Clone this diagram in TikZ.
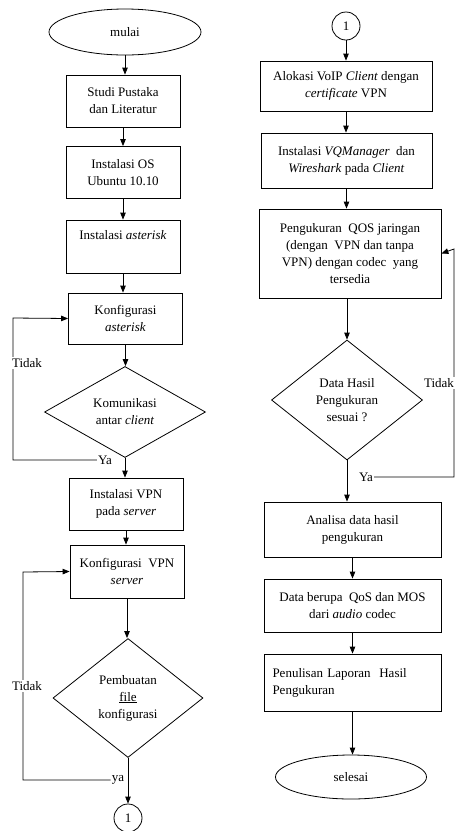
\documentclass[tikz,border=0pt]{standalone}
\usepackage{fontspec}
\setmainfont{Liberation Serif}
\usetikzlibrary{shapes.geometric,arrows.meta}

\tikzset{
	proc/.style={draw,rectangle,align=center,inner sep=2pt,line width=0.8pt},
	term/.style={draw,ellipse,inner sep=1pt,line width=0.8pt},
	dec/.style={draw,diamond,align=center,inner sep=0pt,line width=0.8pt},
	conn/.style={draw,circle,minimum size=28pt,inner sep=0pt,line width=0.8pt},
	line/.style={line width=0.8pt},
	arr/.style={line width=0.8pt,-{Triangle[length=7pt,width=5.5pt]}},
	lbl/.style={fill=white,inner sep=1pt}
}

\begin{document}
\begin{tikzpicture}[x=1pt,y=-1pt,font=\fontsize{13}{17}\selectfont]
		\useasboundingbox (0,0) rectangle (456,831);
		% kolom kiri
		\node[term,minimum width=152pt,minimum height=46pt] (mulai) at (125,32) {mulai};
		\node[proc,minimum width=114pt,minimum height=52pt] (studi) at (123,101) {Studi Pustaka\\dan Literatur};
		\node[proc,minimum width=114pt,minimum height=52pt] (os) at (123,172.5) {Instalasi OS\\Ubuntu 10.10};
		\node[proc,minimum width=114pt,minimum height=53pt] (ast) at (123,246.5) {Instalasi \textit{asterisk}\\ \strut};
		\node[proc,minimum width=114pt,minimum height=51pt] (konfast) at (125.5,318.5) {Konfigurasi\\\textit{asterisk}};
		\node[dec,minimum width=161pt,minimum height=91pt] (kom) at (125,412) {Komunikasi\\antar \textit{client}};
		\node[proc,minimum width=114pt,minimum height=52pt] (vpn) at (126,504) {Instalasi VPN\\pada \textit{server}};
		\node[proc,minimum width=114pt,minimum height=53pt] (konfvpn) at (127,571.5) {Konfigurasi\ \ VPN\\\textit{server}};
		\node[dec,minimum width=150pt,minimum height=119pt] (buat) at (128,698) {Pembuatan\\\underline{file}\\konfigurasi};
		\node[conn] (c1) at (128,818) {1};
		\draw[arr] (mulai.south) -- (mulai.south |- studi.north);
		\draw[arr] (studi.south) -- (studi.south |- os.north);
		\draw[arr] (os.south) -- (os.south |- ast.north);
		\draw[arr] (ast.south) -- (ast.south |- konfast.north);
		\draw[arr] (konfast.south) -- (konfast.south |- kom.north);
		\draw[arr] (kom.south) -- (kom.south |- vpn.north);
		\draw[arr] (vpn.south) -- (vpn.south |- konfvpn.north);
		\draw[arr] (konfvpn.south) -- (konfvpn.south |- buat.north);
		\draw[arr] (buat.south) -- (buat.south |- c1.north);
		\node[lbl] (yalbl1) at (105,460) {Ya};
		\draw[arr] (yalbl1.west) -| (13,318) -- (konfast.west);
		\node[lbl] (tidak1) at (27,363) {Tidak};
		\node[lbl] (yalbl2) at (118,780) {ya};
		\draw[arr] (yalbl2.west) -| (23,572) -- (konfvpn.west);
		\node[lbl] (tidak2) at (27,686) {Tidak};
		% kolom kanan
		\node[conn] (c2) at (346,26) {1};
		\node[proc,minimum width=172pt,minimum height=50pt] (alok) at (346,86) {Alokasi VoIP\ \textit{Client} dengan\\\textit{certificate} VPN};
		\node[proc,minimum width=171pt,minimum height=55pt] (vqm) at (346.5,160.5) {Instalasi \textit{VQManager}\ \ dan\\\textit{Wireshark} pada\ \textit{Client}};
		\node[proc,minimum width=182pt,minimum height=89pt] (ukur) at (350,253.5) {Pengukuran\ \ QOS jaringan\\(dengan\ \ VPN dan tanpa\\VPN) dengan codec\ \ yang\\tersedia};
		\node[dec,minimum width=151pt,minimum height=120pt] (hasil) at (347,400) {Data Hasil\\Pengukuran\\sesuai ?};
		\node[proc,minimum width=177pt,minimum height=55pt] (analisa) at (352.5,529.5) {Analisa data hasil\\pengukuran};
		\node[proc,minimum width=177pt,minimum height=53pt] (berupa) at (352.5,605.5) {Data berupa\ \ QoS dan MOS\\dari \textit{audio} codec};
		\node[proc,minimum width=177pt,minimum height=57pt,align=left,text width=160pt] (tulis) at (352.5,682.5) {Penulisan Laporan\ \ Hasil\\Pengukuran\\[-2pt]};
		\node[term,minimum width=151pt,minimum height=44pt] (selesai) at (351,777) {selesai};
		\draw[arr] (c2.south) -- (c2.south |- alok.north);
		\draw[arr] (alok.south) -- (alok.south |- vqm.north);
		\draw[arr] (vqm.south) -- (vqm.south |- ukur.north);
		\draw[arr] (hasil.north |- ukur.south) -- (hasil.north);
		\draw[arr] (hasil.south) -- (hasil.south |- analisa.north);
		\draw[arr] (analisa.south) -- (analisa.south |- berupa.north);
		\draw[arr] (berupa.south) -- (berupa.south |- tulis.north);
		\draw[arr] (tulis.south) -- (tulis.south |- selesai.north);
		\node[lbl] (yalbl3) at (366,477) {Ya};
		\draw[arr] (yalbl3.east) -| (454,249) -- (ukur.east);
		\node[lbl] (tidak3) at (439,383) {Tidak};
\end{tikzpicture}
\end{document}
